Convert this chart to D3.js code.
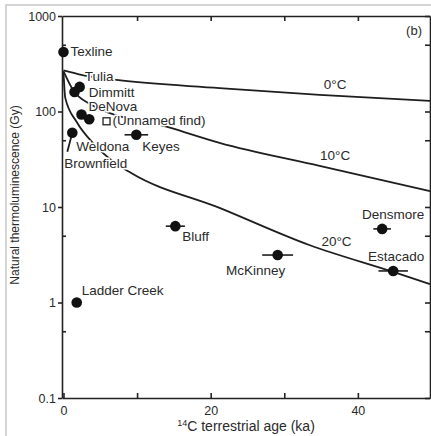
<!DOCTYPE html>
<html>
<head>
<meta charset="utf-8">
<script src="https://cdn.jsdelivr.net/npm/d3@7"></script>
<style>
  body { margin: 0; background: #fff; }
  svg { font-family: "Liberation Sans", Arial, sans-serif; }
  .axis path, .axis line { stroke: #222; stroke-width: 1.6; }
  .axis text { font-size: 12.5px; fill: #2a2a2a; }
</style>
</head>
<body>
<svg id="chart"></svg>
<script>
var width = 431,
  height = 436;

// meteorite finds: 14C terrestrial age (ka) vs natural TL (Gy)
var samples = ['Texline', 'Dimmitt', 'Dimmitt', 'DeNova', 'DeNova', 'Weldona',
  'Keyes', 'Ladder Creek', 'Bluff', 'McKinney', 'Densmore', 'Estacado'];
var ages = [0, 1.5, 2.2, 2.45, 3.5, 1.2, 9.9, 1.8, 15.2, 29.1, 43.3, 44.8];
var tl = [420, 160, 181, 93, 83, 60, 57, 1.0, 6.3, 3.14, 5.9, 2.14];
var ageErr = [0, 0, 0, 0, 0, 0, 1.6, 0, 1.3, 2.1, 1.2, 2.0];

// open symbol
var unnamedAge = 5.85,
  unnamedTl = 79;

// decay curves for storage temperatures
var curveNames = ['0°C', '10°C', '20°C'];
var curveAges = [
  [0, 2.6, 7.2, 21.2, 34.8, 49.8],
  [0, 1.3, 3.6, 14.7, 21.2, 34.8, 49.8],
  [0, 0.25, 1.8, 4.0, 6.3, 9.2, 21.2, 33.4, 44.8, 49.8]
];
var curveTl = [
  [270, 241, 214, 176, 149, 129],
  [265, 168, 120, 67, 47, 27, 14.7],
  [260, 138, 77.6, 46.8, 31.8, 22.7, 9.8, 4.0, 2.09, 1.56]
];

var xTicks = [0, 10, 20, 30, 40];
var xLabels = [0, 20, 40];
var yMajor = [0.1, 1, 10, 100, 1000];
var yMinor = [0.5, 5, 50, 500];

var m = { left: 62, right: 430, top: 16, bottom: 398 };

var x = d3.scaleLinear().domain([-0.2, 49.8]).range([m.left, m.right]);
var y = d3.scaleLog().domain([0.1, 1000]).range([m.bottom, m.top]);

var svg = d3.select('#chart')
  .attr('width', width)
  .attr('height', height);

svg.append('rect')
  .attr('width', width)
  .attr('height', height)
  .attr('fill', '#fff');

// scan frame
svg.append('path')
  .attr('d', 'M6,' + height + 'V5H' + width)
  .attr('fill', 'none')
  .attr('stroke', '#c8c8c8')
  .attr('stroke-width', 1.5);

// axes
var fmt = function(d) { return xLabels.indexOf(d) >= 0 ? d : ''; };

svg.append('g').attr('class', 'axis')
  .attr('transform', 'translate(0,' + m.bottom + ')')
  .call(d3.axisBottom(x).tickValues(xTicks).tickSizeInner(-5).tickSizeOuter(0)
    .tickPadding(8).tickFormat(fmt));

svg.append('g').attr('class', 'axis')
  .attr('transform', 'translate(0,' + m.top + ')')
  .call(d3.axisTop(x).tickValues(xTicks.slice(1)).tickSizeInner(-5).tickSizeOuter(0)
    .tickFormat(''));

svg.append('g').attr('class', 'axis')
  .attr('transform', 'translate(' + m.left + ',0)')
  .call(d3.axisLeft(y).tickValues(yMajor).tickSizeInner(4).tickSizeOuter(0)
    .tickPadding(2).tickFormat(function(d) { return d; }));

svg.append('g').attr('class', 'axis')
  .attr('transform', 'translate(' + m.left + ',0)')
  .call(d3.axisRight(y).tickValues(yMinor).tickSize(4).tickFormat(''))
  .select('.domain').remove();

svg.append('g').attr('class', 'axis')
  .attr('transform', 'translate(' + m.right + ',0)')
  .call(d3.axisLeft(y).tickValues(yMajor.concat(yMinor)).tickSizeInner(5).tickSizeOuter(0)
    .tickFormat(''));

// axis titles
svg.append('text')
  .attr('transform', 'translate(19,195)rotate(-90)')
  .attr('text-anchor', 'middle')
  .attr('font-size', 12)
  .attr('fill', '#2a2a2a')
  .text('Natural thermoluminescence (Gy)');

var xt = svg.append('text')
  .attr('x', (m.left + m.right) / 2)
  .attr('y', 431)
  .attr('text-anchor', 'middle')
  .attr('font-size', 14)
  .attr('fill', '#2a2a2a');
xt.append('tspan').attr('font-size', 9).attr('dy', -5).text('14');
xt.append('tspan').attr('dy', 5).text('C terrestrial age (ka)');

svg.append('text')
  .attr('x', 422)
  .attr('y', 35)
  .attr('text-anchor', 'end')
  .attr('font-size', 13)
  .attr('fill', '#2a2a2a')
  .text('(b)');

// curves
var line = d3.line()
  .x(function(d) { return x(d[0]); })
  .y(function(d) { return y(d[1]); })
  .curve(d3.curveMonotoneX);

var curveData = curveAges.map(function(a, i) {
  return a.map(function(v, j) { return [v, curveTl[i][j]]; });
});

svg.append('g')
  .selectAll('path')
  .data(curveData)
  .enter().append('path')
  .attr('d', line)
  .attr('fill', 'none')
  .attr('stroke', '#1e1e1e')
  .attr('stroke-width', 1.8);

var labelStyle = function(sel) {
  sel.attr('font-size', 13.5)
    .attr('fill', '#2a2a2a')
    .attr('stroke', '#fff')
    .attr('stroke-width', 3)
    .attr('paint-order', 'stroke')
    .attr('dominant-baseline', 'central');
};

// curve labels [curve, age, dy]
var curveLabelPos = [[0, 36.9, -11], [1, 36.9, -14], [2, 37.1, -12]];
curveLabelPos.forEach(function(p) {
  var c = curveData[p[0]];
  var v = Math.exp(d3.scaleLinear().domain(c.map(function(d) { return d[0]; }))
    .range(c.map(function(d) { return Math.log(d[1]); }))(p[1]));
  svg.append('text')
    .attr('x', x(p[1]))
    .attr('y', y(v) + p[2])
    .attr('text-anchor', 'middle')
    .call(labelStyle)
    .text(curveNames[p[0]]);
});

// error bars
svg.append('g')
  .selectAll('line')
  .data(ages.map(function(a, i) { return i; }).filter(function(i) { return ageErr[i] > 0; }))
  .enter().append('line')
  .attr('x1', function(i) { return x(ages[i] - ageErr[i]); })
  .attr('x2', function(i) { return x(ages[i] + ageErr[i]); })
  .attr('y1', function(i) { return y(tl[i]); })
  .attr('y2', function(i) { return y(tl[i]); })
  .attr('stroke', '#1e1e1e')
  .attr('stroke-width', 1.6);

// Brownfield leader from Weldona point
svg.append('line')
  .attr('x1', x(ages[5]))
  .attr('y1', y(tl[5]))
  .attr('x2', x(ages[5]) - 5)
  .attr('y2', y(tl[5]) + 19)
  .attr('stroke', '#1e1e1e')
  .attr('stroke-width', 1.8);

// points
svg.append('g')
  .selectAll('circle')
  .data(ages)
  .enter().append('circle')
  .attr('cx', function(d) { return x(d); })
  .attr('cy', function(d, i) { return y(tl[i]); })
  .attr('r', 5.3)
  .attr('fill', '#111');

svg.append('rect')
  .attr('x', x(unnamedAge) - 3.5)
  .attr('y', y(unnamedTl) - 3.5)
  .attr('width', 7)
  .attr('height', 7)
  .attr('fill', '#fff')
  .attr('stroke', '#222')
  .attr('stroke-width', 1.3);

// point labels [text, point index (-1 = open square), dx, dy, anchor]
var labels = [
  ['Texline', 0, 7, 0, 'start'],
  ['Dimmitt', 2, 9, 6, 'start'],
  ['DeNova', 3, 7, -8, 'start'],
  ['(Unnamed find)', -1, 6, -1, 'start'],
  ['Weldona', 5, 4, 14, 'start'],
  ['Brownfield', 5, -8, 31, 'start'],
  ['Keyes', 6, 6, 12, 'start'],
  ['Ladder Creek', 7, 5, -12, 'start'],
  ['Bluff', 8, 7, 10, 'start'],
  ['McKinney', 9, -22, 15, 'middle'],
  ['Densmore', 10, 11, -14, 'middle'],
  ['Estacado', 11, 3, -14, 'middle']
];

labels.forEach(function(l) {
  var px = l[1] < 0 ? x(unnamedAge) : x(ages[l[1]]);
  var py = l[1] < 0 ? y(unnamedTl) : y(tl[l[1]]);
  svg.append('text')
    .attr('x', px + l[2])
    .attr('y', py + l[3])
    .attr('text-anchor', l[4])
    .call(labelStyle)
    .text(l[0]);
});

// Tulia sits on the 0°C curve
svg.append('text')
  .attr('x', x(2.9))
  .attr('y', y(236) + 1)
  .call(labelStyle)
  .text('Tulia');
</script>
</body>
</html>
